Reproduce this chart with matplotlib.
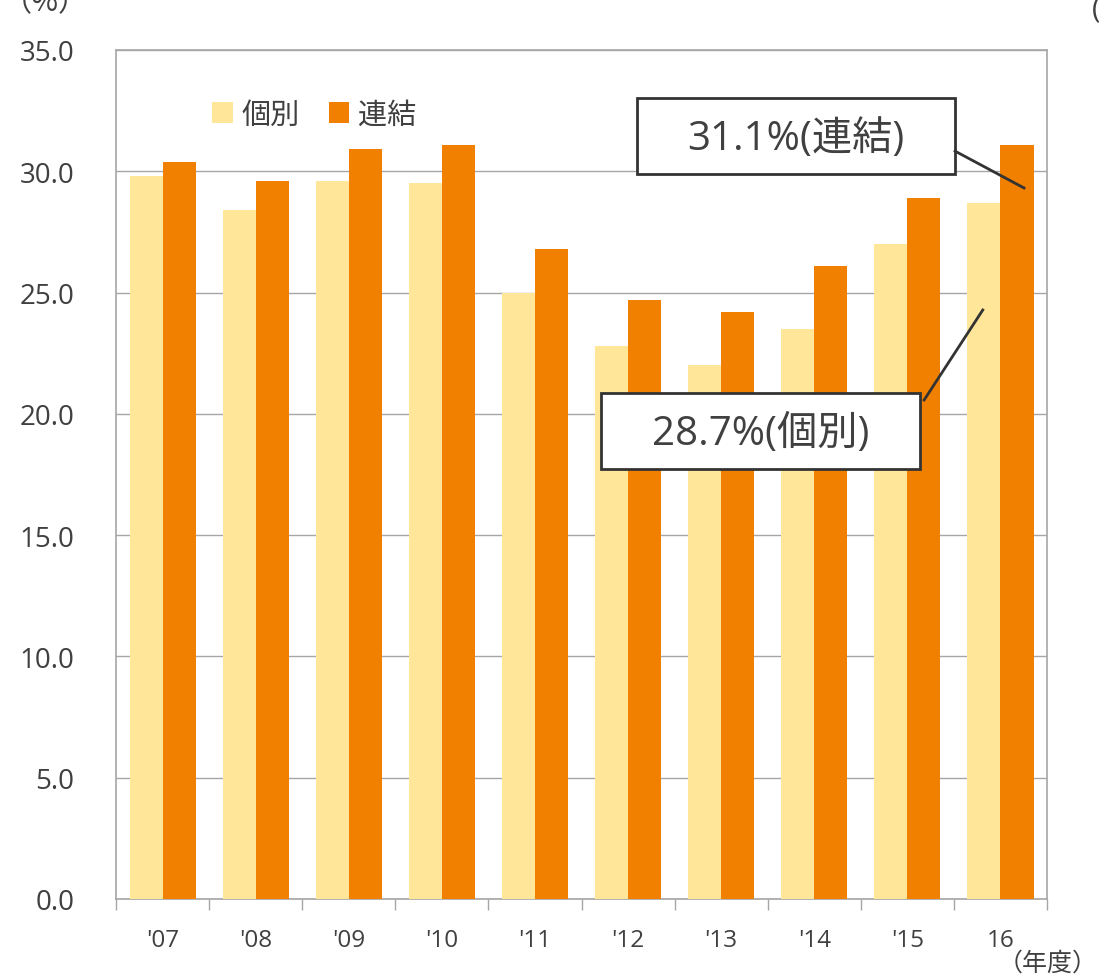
#!/usr/bin/env python3

import numpy as np
import matplotlib
matplotlib.use("Agg")
import matplotlib.pyplot as plt
from matplotlib.patches import Rectangle

plt.rcParams['font.family'] = ['Open Sans', 'Noto Sans CJK JP', 'DejaVu Sans']

years = ["'07", "'08", "'09", "'10", "'11", "'12", "'13", "'14", "'15", "16"]
kobetsu = [29.8, 28.4, 29.6, 29.5, 25.0, 22.8, 22.0, 23.5, 27.0, 28.7]
renketsu = [30.4, 29.6, 30.9, 31.1, 26.8, 24.7, 24.2, 26.1, 28.9, 31.1]
yticks = [0, 5, 10, 15, 20, 25, 30, 35]

TEXT = '#404040'
GRID = '#a6a6a6'
YELLOW = '#ffe699'
ORANGE = '#f28000'


def main():
    fig = plt.figure(figsize=(10.99, 9.78), dpi=100)
    ax = fig.add_axes([0.1056, 0.0798, 0.8471, 0.8681])

    x = np.arange(len(years))
    w = 0.355
    ax.bar(x - w / 2, kobetsu, w, color=YELLOW, label='個別', zorder=3)
    ax.bar(x + w / 2, renketsu, w, color=ORANGE, label='連結', zorder=3)

    ax.set_xlim(-0.5, len(years) - 0.5)
    ax.set_ylim(0, 35)
    ax.set_yticks(yticks)
    ax.set_yticklabels(["%.1f" % v for v in yticks])
    ax.yaxis.grid(True, color=GRID, linewidth=1, zorder=0)
    ax.tick_params(axis='y', length=0, pad=30, labelsize=20, labelcolor=TEXT)

    # category boundaries get the tick marks, labels sit in between
    ax.set_xticks(np.arange(-0.5, len(years)))
    ax.set_xticklabels([])
    ax.set_xticks(x, minor=True)
    ax.set_xticklabels(years, minor=True)
    ax.tick_params(axis='x', which='major', length=8, color=GRID, width=1)
    ax.tick_params(axis='x', which='minor', length=0, pad=21,
                   labelsize=17.5, labelcolor=TEXT)

    for s in ax.spines.values():
        s.set_color(GRID)
        s.set_linewidth(1.2)

    ax.legend(loc='upper left', bbox_to_anchor=(0.075, 0.971), ncol=2,
              frameon=False, fontsize=21, labelcolor=TEXT,
              handlelength=0.7, handleheight=0.7, handletextpad=0.3,
              columnspacing=1.0)

    # callout boxes
    boxes = [
        ((5.096, 29.88), 3.416, 3.14, '31.1%(連結)', (8.512, 30.83), (9.253, 29.31)),
        ((4.71, 17.72), 3.426, 3.14, '28.7%(個別)', (8.18, 20.57), (8.81, 24.28)),
    ]
    for (bx, by), bw, bh, txt, p0, p1 in boxes:
        ax.add_patch(Rectangle((bx, by), bw, bh, facecolor='white',
                               edgecolor='#333333', linewidth=2, zorder=5))
        ax.text(bx + bw / 2, by + bh / 2 - 0.12, txt, ha='center', va='center',
                fontsize=29, color=TEXT, zorder=6)
        ax.plot([p0[0], p1[0]], [p0[1], p1[1]], color='#333333',
                linewidth=2, zorder=6)

    fig.text(45 / 1099, 1 - 18 / 978, '（%）', ha='center', va='bottom',
             fontsize=21, color=TEXT,
             family=['Noto Sans CJK JP', 'DejaVu Sans'])
    fig.text(1092 / 1099, 1 - 24 / 978, '(', ha='left', va='bottom',
             fontsize=21, color=TEXT)
    fig.text(1 - 1 / 1099, 1 / 978, '（年度）', ha='right', va='bottom',
             fontsize=18, color=TEXT,
             family=['Noto Sans CJK JP', 'DejaVu Sans'])

    fig.savefig('out.png', dpi=100)
    plt.close(fig)


if __name__ == '__main__':
    main()
